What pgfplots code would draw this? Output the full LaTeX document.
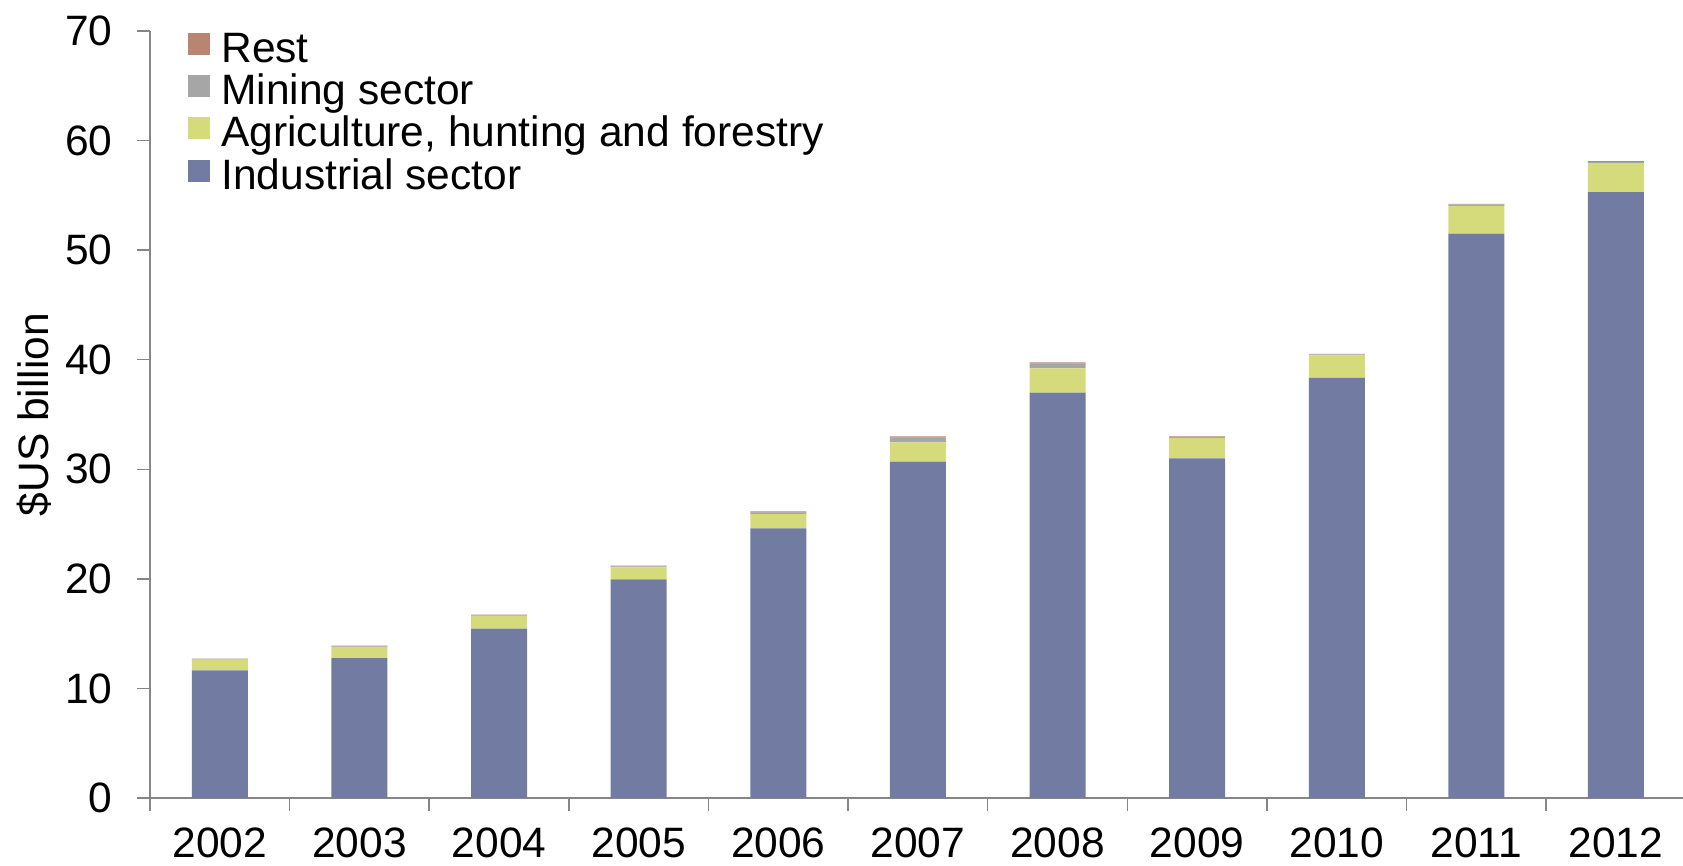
\documentclass[border=0pt]{standalone}
\usepackage{fontspec}
\setmainfont{Liberation Sans}
\usepackage{pgfplots}
\pgfplotsset{compat=1.18}
\usepackage{pgfplotstable}

\definecolor{indcol}{RGB}{114,123,162}
\definecolor{agrcol}{RGB}{213,219,123}
\definecolor{mincol}{RGB}{166,166,166}
\definecolor{restcol}{RGB}{185,133,113}
\definecolor{axisgray}{RGB}{134,134,134}

% x: 0 = 2002 ... 10 = 2012
\pgfplotstableread{
x   ind    agr   min   rest
0   11.65  0.98  0.03  0.07
1   12.77  1.03  0.03  0.07
2   15.45  1.17  0.05  0.07
3   19.95  1.10  0.08  0.08
4   24.60  1.30  0.15  0.10
5   30.70  1.75  0.45  0.10
6   37.00  2.20  0.45  0.10
7   31.00  1.85  0.10  0.05
8   38.35  2.05  0.08  0.06
9   51.50  2.55  0.12  0.05
10  55.30  2.65  0.10  0.08
}\datatable

\newcommand{\chartfont}{\fontsize{21.25}{25}\selectfont}

\begin{document}
\begin{tikzpicture}
\useasboundingbox (0,0) rectangle (841.5pt,433pt);
\begin{axis}[
    at={(75pt,34pt)}, anchor=south west,
    scale only axis, width=766.5pt, height=383.5pt,
    ybar stacked, bar width=28pt,
    xmin=-0.5, xmax=10.48, ymin=0, ymax=70,
    ytick={0,10,...,70},
    xtick={0,...,10},
    xticklabels={2002,2003,2004,2005,2006,2007,2008,2009,2010,2011,2012},
    axis x line*=bottom, axis y line*=left,
    axis line style={-, draw=axisgray, line width=0.75pt},
    tick align=outside, major tick length=6.5pt,
    xtick style={draw=none},
    ytick style={draw=axisgray, line width=0.75pt},
    extra x ticks={-0.5,0.5,...,9.5}, extra x tick labels={},
    extra x tick style={xtick style={draw=axisgray, line width=0.75pt}},
    tick label style={font=\chartfont},
    yticklabel style={xshift=-8.7pt},
    xticklabel style={inner sep=0pt, yshift=-8.2pt},
    /pgf/number format/assume math mode=true,
    ylabel={\$US billion},
    every axis y label/.style={at={(rel axis cs:0,0.5)}, rotate=90, anchor=center, yshift=58pt, font=\chartfont},
    legend image code/.code={\path (0pt,0pt) rectangle (11pt,0pt);
        \fill[#1, overlay] (0pt,-1.2pt) rectangle (11pt,9.8pt);},
    reverse legend,
    legend cell align=left,
    legend style={at={(0,1)}, anchor=north west, xshift=19pt, yshift=-0.1pt,
        draw=none, fill=none, inner sep=0pt, row sep=0pt, font=\chartfont,
        nodes={inner sep=0pt, text height=15.5pt, text depth=5.6pt},
        /tikz/every odd column/.style={column sep=5.5pt}},
]
\addplot[fill=indcol, draw=none] table[x=x, y=ind] {\datatable};
\addplot[fill=agrcol, draw=none] table[x=x, y=agr] {\datatable};
\addplot[fill=mincol, draw=none] table[x=x, y=min] {\datatable};
\addplot[fill=restcol, draw=none] table[x=x, y=rest] {\datatable};
\legend{Industrial sector, {Agriculture, hunting and forestry}, Mining sector, Rest}
\end{axis}
\end{tikzpicture}
\end{document}
